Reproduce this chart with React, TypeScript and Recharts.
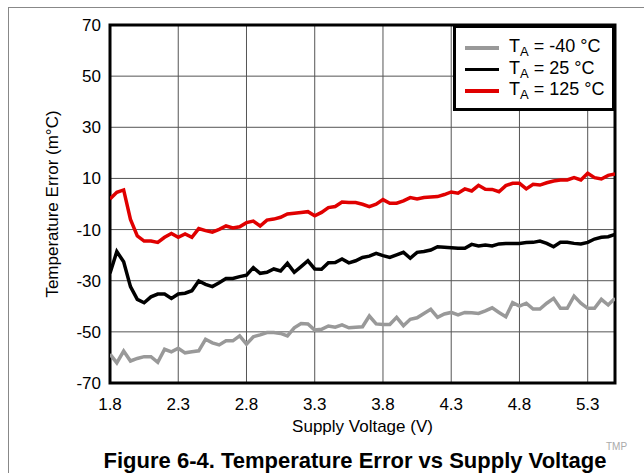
import React from "react";
import {
  LineChart,
  Line,
  XAxis,
  YAxis,
  CartesianGrid,
  ReferenceArea,
} from "recharts";

const voltages = [
  1.8, 1.85, 1.9, 1.95, 2.0, 2.05, 2.1, 2.15, 2.2, 2.25, 2.3, 2.35, 2.4, 2.45,
  2.5, 2.55, 2.6, 2.65, 2.7, 2.75, 2.8, 2.85, 2.9, 2.95, 3.0, 3.05, 3.1, 3.15,
  3.2, 3.25, 3.3, 3.35, 3.4, 3.45, 3.5, 3.55, 3.6, 3.65, 3.7, 3.75, 3.8, 3.85,
  3.9, 3.95, 4.0, 4.05, 4.1, 4.15, 4.2, 4.25, 4.3, 4.35, 4.4, 4.45, 4.5, 4.55,
  4.6, 4.65, 4.7, 4.75, 4.8, 4.85, 4.9, 4.95, 5.0, 5.05, 5.1, 5.15, 5.2, 5.25,
  5.3, 5.35, 5.4, 5.45, 5.5,
];

const errMinus40 = [
  -58.7, -62.1, -57.5, -61.4, -60.4, -59.7, -59.7, -61.9, -56.8, -57.8, -56.4,
  -58.2, -57.8, -57.4, -52.9, -54.3, -55.1, -53.5, -53.5, -51.6, -54.8, -51.9,
  -51.2, -50.3, -50.3, -50.6, -51.6, -48.4, -46.7, -46.9, -49.3, -49, -47.7,
  -48.2, -47.3, -48.4, -48.2, -48, -43.8, -46.9, -47.1, -47.1, -44.3, -47.6,
  -45.1, -44.5, -42.8, -41.2, -44.3, -43, -42.4, -43.4, -42.4, -42.5, -42.8,
  -41.8, -40.6, -42.4, -44.1, -38.6, -39.9, -38.8, -41.1, -41.1, -38.8, -36.9,
  -40.8, -40.8, -36, -38.8, -40.8, -40.8, -37.3, -39.5, -36.9,
];

const err25 = [
  -27.1, -18.6, -22.6, -32.3, -37.3, -38.6, -36.3, -35.2, -35.2, -36.9, -35.2,
  -34.9, -33.9, -30.1, -31.4, -32.3, -30.8, -29.1, -29.1, -28.4, -27.8, -24.9,
  -27.1, -26.7, -25.4, -26.2, -23.2, -26.7, -24.5, -22.2, -25.4, -25.5, -23,
  -22.9, -21.5, -23, -22.2, -20.9, -20.4, -19.3, -20.2, -20.9, -19.9, -18.9,
  -21.2, -18.9, -18.6, -18.0, -16.7, -16.9, -17.1, -17.3, -17.3, -15.8, -16.4,
  -16, -16.4, -15.6, -15.4, -15.4, -15.4, -15.1, -15, -14.5, -15.4, -16.7, -15,
  -15, -15.4, -15.6, -15, -13.7, -13, -12.8, -11.9,
];

const err125 = [
  2, 4.6, 5.5, -6, -12.5, -14.5, -14.5, -15, -13, -11.5, -13, -11.7, -13, -9.6,
  -10.4, -11, -9.9, -8.6, -9.4, -8.9, -7.3, -6.7, -8.6, -6.3, -5.9, -5.2, -3.9,
  -3.6, -3.3, -3.0, -4.6, -3.3, -1.4, -1.0, 0.8, 0.6, 0.6, -0.1, -1.0, -0.1,
  1.7, 0.3, 0.3, 1.2, 2.5, 2.0, 2.5, 2.7, 2.9, 3.7, 4.7, 4.2, 5.9, 5.1, 7.3,
  5.8, 5.7, 4.8, 7.2, 8.1, 8.1, 5.9, 7.7, 7.4, 8.3, 9.0, 9.4, 9.4, 10.3, 9.4,
  12, 10.3, 9.8, 11.2, 11.7,
];

const xTicks = [1.8, 2.3, 2.8, 3.3, 3.8, 4.3, 4.8, 5.3];
const yTicks = [-70, -50, -30, -10, 10, 30, 50, 70];

const series = [
  { key: "m40", label: "-40 °C", color: "#999999" },
  { key: "t25", label: "25 °C", color: "#000000" },
  { key: "t125", label: "125 °C", color: "#e00000" },
];

const data = voltages.map((v, i) => ({
  v,
  m40: errMinus40[i],
  t25: err25[i],
  t125: err125[i],
}));

const FONT = '"Liberation Sans", Arial, Helvetica, sans-serif';

const LegendBox = () => (
  <div
    style={{
      position: "absolute",
      left: 453,
      top: 25,
      width: 162,
      height: 86,
      border: "3px solid #000",
      background: "#fff",
      boxSizing: "border-box",
      paddingTop: 9,
      fontFamily: FONT,
      fontSize: 18,
      color: "#000",
    }}
  >
    {series.map((s) => (
      <div
        key={s.key}
        style={{ display: "flex", alignItems: "center", height: 21.5 }}
      >
        <div
          style={{
            width: 34,
            height: 3.5,
            background: s.color,
            marginLeft: 9,
            marginRight: 10,
          }}
        />
        <span style={{ whiteSpace: "nowrap" }}>
          T<sub style={{ fontSize: 13, verticalAlign: -4 }}>A</sub> = {s.label}
        </span>
      </div>
    ))}
  </div>
);

const App: React.FC = () => {
  return (
    <div
      style={{
        position: "absolute",
        left: 0,
        top: 0,
        width: 644,
        height: 473,
        background: "#fff",
        fontFamily: FONT,
      }}
    >
      <div
        style={{
          position: "absolute",
          left: 8,
          top: 7,
          width: 636,
          height: 466,
          borderLeft: "1px solid #888",
          borderTop: "1px solid #888",
        }}
      />
      <LineChart
        width={644}
        height={473}
        data={data}
        margin={{ top: 25, right: 29, left: 0, bottom: 0 }}
        style={{ position: "absolute", left: 0, top: 0 }}
      >
        <CartesianGrid stroke="#555" strokeWidth={1} />
        <XAxis
          dataKey="v"
          type="number"
          domain={[1.8, 5.5]}
          ticks={xTicks}
          allowDataOverflow
          height={90}
          tickSize={0}
          tickMargin={15}
          axisLine={false}
          tick={{ fill: "#000", fontSize: 17, fontFamily: FONT }}
          tickFormatter={(t: number) => t.toFixed(1)}
          label={{
            value: "Supply Voltage (V)",
            position: "insideTop",
            offset: 37,
            fill: "#000",
            fontSize: 17,
            fontFamily: FONT,
          }}
        />
        <YAxis
          type="number"
          domain={[-70, 70]}
          ticks={yTicks}
          allowDataOverflow
          width={110}
          tickSize={0}
          tickMargin={9}
          axisLine={false}
          tick={{ fill: "#000", fontSize: 17, fontFamily: FONT }}
          label={{
            value: "Temperature Error (m°C)",
            angle: -90,
            position: "insideLeft",
            offset: 52,
            fill: "#000",
            fontSize: 17,
            fontFamily: FONT,
            style: { textAnchor: "middle" },
          }}
        />
        {series.map((s) => (
          <Line
            key={s.key}
            type="linear"
            dataKey={s.key}
            stroke={s.color}
            strokeWidth={3.5}
            dot={false}
            isAnimationActive={false}
          />
        ))}
        <ReferenceArea
          x1={1.8}
          x2={5.5}
          y1={-70}
          y2={70}
          fill="none"
          fillOpacity={0}
          stroke="#000"
          strokeWidth={3}
          ifOverflow="extendDomain"
        />
      </LineChart>
      <LegendBox />
      <div
        style={{
          position: "absolute",
          left: 606,
          top: 441,
          fontSize: 10,
          color: "#aaa",
          fontFamily: FONT,
        }}
      >
        TMP
      </div>
      <div
        style={{
          position: "absolute",
          left: 0,
          width: 710,
          top: 448,
          textAlign: "center",
          fontWeight: "bold",
          fontSize: 22,
          fontFamily: FONT,
          color: "#000",
        }}
      >
        Figure 6-4. Temperature Error vs Supply Voltage
      </div>
    </div>
  );
};

export default App;
